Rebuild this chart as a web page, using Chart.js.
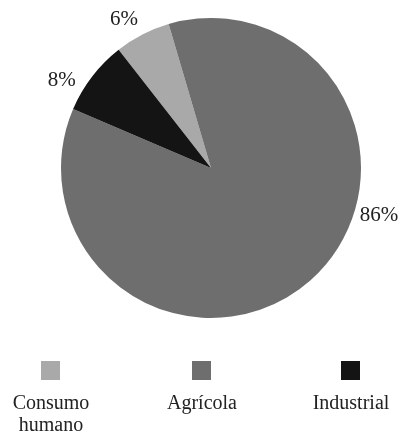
<!DOCTYPE html>
<html>
<head>
<meta charset="utf-8">
<script src="https://cdn.jsdelivr.net/npm/chart.js@4/dist/chart.umd.min.js"></script>
<style>
  html, body { margin: 0; padding: 0; background: #fff; }
  #wrap { width: 403px; height: 432px; }
</style>
</head>
<body>
<div id="wrap"><canvas id="chart" width="403" height="432"></canvas></div>
<script>
// Uso del agua por sector
const categories = ['Consumo humano', 'Agrícola', 'Industrial'];
const shares = [6, 86, 8];
const sliceColors = ['#a9a9a9', '#6e6e6e', '#141414'];

// where each percentage sits around the pie (degrees from top, clockwise)
const labelAngles = [-30, 105, -59];
const labelGap = 24;
// legend column centres
const legendX = [51, 202, 351];

const serif = '"Liberation Serif", "DejaVu Serif", serif';

// percentages written just outside the rim
const pctLabels = {
    id: 'pctLabels',
    afterDatasetsDraw(chart) {
        const ctx = chart.ctx;
        const arcs = chart.getDatasetMeta(0).data;
        const total = shares.reduce((a, b) => a + b, 0);
        ctx.save();
        ctx.font = '21px ' + serif;
        ctx.fillStyle = '#222';
        ctx.textAlign = 'center';
        ctx.textBaseline = 'middle';
        arcs.forEach((arc, i) => {
            const a = labelAngles[i] * Math.PI / 180;
            const r = arc.outerRadius + labelGap;
            const x = arc.x + Math.sin(a) * r;
            const y = arc.y - Math.cos(a) * r + 2;
            ctx.fillText(Math.round(shares[i] / total * 100) + '%', x, y);
        });
        ctx.restore();
    }
};

// legend: swatch on top, name underneath
const stackedLegend = {
    id: 'stackedLegend',
    afterDraw(chart) {
        const ctx = chart.ctx;
        ctx.save();
        ctx.font = '20px ' + serif;
        ctx.textAlign = 'center';
        ctx.textBaseline = 'alphabetic';
        categories.forEach((name, i) => {
            const cx = legendX[i];
            ctx.fillStyle = sliceColors[i];
            ctx.fillRect(cx - 10, 361, 19, 19);
            ctx.fillStyle = '#222';
            const words = name.split(' ');
            words.forEach((w, j) => ctx.fillText(w, cx, 409 + j * 22));
        });
        ctx.restore();
    }
};

new Chart(document.getElementById('chart'), {
    type: 'pie',
    data: {
        labels: categories,
        datasets: [{
            data: shares,
            backgroundColor: sliceColors,
            borderWidth: 0
        }]
    },
    options: {
        responsive: false,
        animation: false,
        devicePixelRatio: 1,
        rotation: -38,
        layout: { padding: { left: 61, right: 42, top: 18, bottom: 114 } },
        plugins: {
            legend: { display: false },
            tooltip: { enabled: false }
        }
    },
    plugins: [pctLabels, stackedLegend]
});
</script>
</body>
</html>
